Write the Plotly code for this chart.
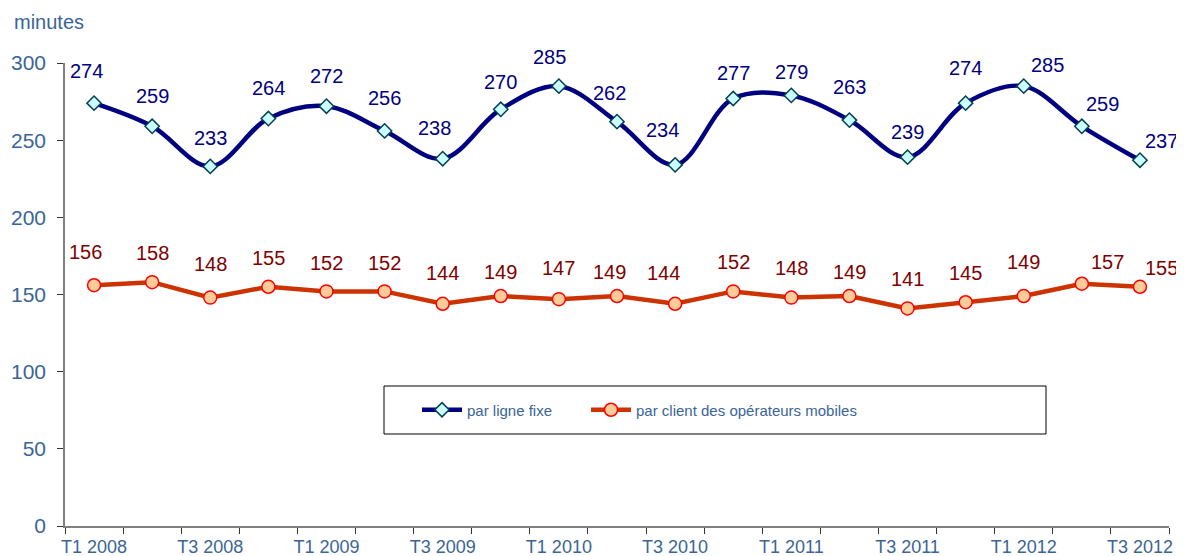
import plotly.graph_objects as go

quarters = ["T1 2008", "T2 2008", "T3 2008", "T4 2008",
            "T1 2009", "T2 2009", "T3 2009", "T4 2009",
            "T1 2010", "T2 2010", "T3 2010", "T4 2010",
            "T1 2011", "T2 2011", "T3 2011", "T4 2011",
            "T1 2012", "T2 2012", "T3 2012"]
fixe = [274, 259, 233, 264, 272, 256, 238, 270, 285, 262, 234, 277, 279, 263, 239, 274, 285, 259, 237]
mobile = [156, 158, 148, 155, 152, 152, 144, 149, 147, 149, 144, 152, 148, 149, 141, 145, 149, 157, 155]
name_fixe = "par ligne fixe"
name_mobile = "par client des opérateurs mobiles"

# label offsets in pixels (dx, dy up)
fixe_dx = [-8, 0, 0, 0, 0, 0, -8, 0, -9, -8, -13, 0, 0, 0, 0, 0, 24, 21, 22]
fixe_dy = [32, 30, 28, 31, 30, 33, 31, 27, 29, 29, 35, 26, 23, 33, 25, 35, 21, 22, 19]
mob_dx = [-9, 0, 0, 0, 0, 0, 0, 0, 0, -8, -12, 0, 0, 0, 0, 0, 0, 26, 22]
mob_dy = [33, 29, 34, 29, 28, 28, 31, 24, 31, 24, 31, 29, 30, 24, 29, 29, 34, 22, 19]

x = list(range(len(quarters)))
tick_color = "#3A6596"
font_family = "Liberation Sans, Arial, sans-serif"

fig = go.Figure()
fig.add_trace(go.Scatter(
    x=x, y=fixe, name=name_fixe, mode="lines+markers", legend="legend",
    line=dict(color="#000080", width=4.5, shape="spline", smoothing=1.0),
    marker=dict(symbol="diamond", size=11, color="#CCFFFF",
                line=dict(color="#004050", width=1.5)),
))
fig.add_trace(go.Scatter(
    x=x, y=mobile, name=name_mobile, mode="lines+markers", legend="legend2",
    line=dict(color="#CC3300", width=4.5),
    marker=dict(symbol="circle", size=13, color="#FFCC99",
                line=dict(color="#FF0000", width=1.5)),
))

annotations = []
for i, v in enumerate(fixe):
    annotations.append(dict(x=i, y=v, text=str(v), showarrow=False,
                            xshift=fixe_dx[i], yshift=fixe_dy[i],
                            font=dict(size=20, color="#000080", family=font_family)))
for i, v in enumerate(mobile):
    annotations.append(dict(x=i, y=v, text=str(v), showarrow=False,
                            xshift=mob_dx[i], yshift=mob_dy[i],
                            font=dict(size=20, color="#800000", family=font_family)))

# page geometry (the page body has an 8px margin)
OFF = 8
W, H = 1184 - OFF, 556 - OFF
PL, PR, PT, PB = 65, 1169, 63, 526  # plot area in page pixels
L, T = PL - OFF, PT - OFF
R = W - (PR - OFF)
B = H - (PB - OFF)
pw, ph = PR - PL, PB - PT

def px_x(p):
    return (p - PL) / pw

def px_y(p):
    return (PB - p) / ph

annotations.append(dict(xref="paper", yref="paper", x=px_x(12), y=px_y(22),
                        xanchor="left", yanchor="middle", text="minutes", showarrow=False,
                        font=dict(size=20, color=tick_color, family=font_family)))

legend_style = dict(orientation="h", yanchor="middle", xanchor="left",
                    bgcolor="rgba(0,0,0,0)", borderwidth=0,
                    font=dict(size=15, color=tick_color, family=font_family),
                    itemwidth=40)

fig.update_layout(
    width=W, height=H,
    margin=dict(l=L, r=R, t=T, b=B, autoexpand=False),
    paper_bgcolor="white", plot_bgcolor="white",
    font=dict(family=font_family, color=tick_color),
    showlegend=True,
    legend=dict(x=px_x(417), y=px_y(410), **legend_style),
    legend2=dict(x=px_x(586), y=px_y(410), **legend_style),
    annotations=annotations,
    shapes=[dict(type="rect", xref="paper", yref="paper",
                 x0=px_x(384), x1=px_x(1046), y0=px_y(434), y1=px_y(386),
                 line=dict(color="black", width=1), fillcolor="white", layer="below")],
)
fig.update_xaxes(
    range=[-0.5, len(quarters) - 0.5],
    tickmode="array", tickvals=x[::2], ticktext=quarters[::2],
    ticks="", showgrid=False, zeroline=False,
    showline=True, linecolor="#808080", linewidth=1.5,
    tickfont=dict(size=18, color=tick_color), ticklabelstandoff=4,
    minor=dict(tickmode="linear", tick0=-0.5, dtick=1, ticks="outside",
               ticklen=6, tickcolor="#333333", tickwidth=1, showgrid=False),
)
fig.update_yaxes(
    range=[0, 300], dtick=50, tick0=0,
    ticks="outside", ticklen=6, tickcolor="#333333",
    showgrid=False, zeroline=False,
    showline=True, linecolor="#808080", linewidth=1.5,
    tickfont=dict(size=21, color=tick_color), ticklabelstandoff=7,
)

fig.write_html("out.html")
